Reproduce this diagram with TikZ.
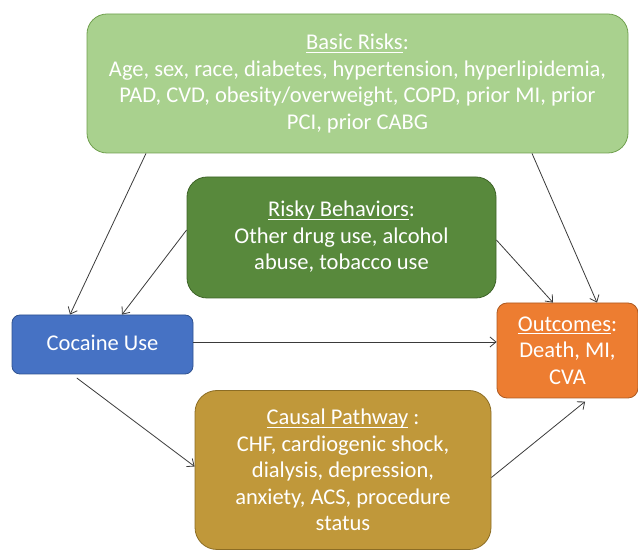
\documentclass[tikz,border=0pt]{standalone}
\usepackage{fontspec}
\setmainfont{Carlito}
\usetikzlibrary{arrows.meta}

\definecolor{riskfill}{RGB}{169,209,142}
\definecolor{riskline}{RGB}{112,160,78}
\definecolor{behavfill}{RGB}{88,137,60}
\definecolor{behavline}{RGB}{62,100,40}
\definecolor{cocafill}{RGB}{70,114,196}
\definecolor{cocaline}{RGB}{47,82,143}
\definecolor{outfill}{RGB}{237,125,49}
\definecolor{outline}{RGB}{174,90,33}
\definecolor{pathfill}{RGB}{192,152,58}
\definecolor{pathline}{RGB}{140,109,36}
\definecolor{linkgray}{RGB}{58,58,58}

% underline that ignores descenders
\newcommand{\ulhead}[1]{\underline{\raisebox{0pt}[\height][1pt]{#1}}}

\begin{document}
\begin{tikzpicture}[x=1pt, y=1pt,
    box/.style={draw, line width=0.8pt, inner sep=0pt, align=center,
        text=white, font=\fontsize{22.5}{26.5}\selectfont},
    link/.style={draw=linkgray, line width=0.8pt,
        -{Straight Barb[length=6pt,width=10pt]}}]
    \useasboundingbox (0,0) rectangle (638,551);

    % Draw the boxes
    \node[box, fill=riskfill, draw=riskline, rounded corners=20pt,
        minimum width=541pt, minimum height=139pt] (basic) at (357.5,467.5)
        {\ulhead{Basic Risks}:\\
         Age, sex, race, diabetes, hypertension, hyperlipidemia,\\
         PAD, CVD, obesity/overweight, COPD, prior MI, prior\\
         PCI, prior CABG};
    \node[box, fill=behavfill, draw=behavline, rounded corners=20pt,
        minimum width=309pt, minimum height=121pt] (risky) at (341.5,313.5)
        {\raisebox{4pt}{\ulhead{Risky Behaviors}:}\\
         \raisebox{4pt}{Other drug use, alcohol}\\
         \raisebox{4pt}{abuse, tobacco use}};
    \node[box, fill=cocafill, draw=cocaline, rounded corners=8pt,
        minimum width=181pt, minimum height=59pt] (cocaine) at (102.5,206.5)
        {\raisebox{4pt}{Cocaine Use}};
    \node[box, fill=outfill, draw=outline, rounded corners=10pt,
        minimum width=141pt, minimum height=95pt] (outcomes) at (567.5,200.5)
        {\ulhead{Outcomes}:\\
         Death, MI,\\
         CVA};
    \node[box, fill=pathfill, draw=pathline, rounded corners=22pt,
        minimum width=296pt, minimum height=159pt] (causal) at (343,81)
        {\ulhead{Causal Pathway} :\\
         CHF, cardiogenic shock,\\
         dialysis, depression,\\
         anxiety, ACS, procedure\\
         status};

    % Draw connections
    \draw[link] ([xshift=-211.5pt]basic.south) -- ([xshift=-32.5pt]cocaine.north);
    \draw[link] ([yshift=7.5pt]risky.west) -- ([xshift=19.5pt]cocaine.north);
    \draw[link] ([yshift=-2.5pt]risky.east) -- ([xshift=-14.5pt]outcomes.north);
    \draw[link] ([xshift=174.5pt]basic.south) -- ([xshift=29.5pt]outcomes.north);
    \draw[link] ([yshift=2.5pt]cocaine.east) -- ([yshift=8.5pt]outcomes.west);
    \draw[link, shorten <=6pt] ([xshift=-30.5pt]cocaine.south) -- ([yshift=3.5pt]causal.west);
    \draw[link, shorten >=5pt] ([yshift=-7.5pt]causal.east) -- ([xshift=21.5pt]outcomes.south);
\end{tikzpicture}
\end{document}
